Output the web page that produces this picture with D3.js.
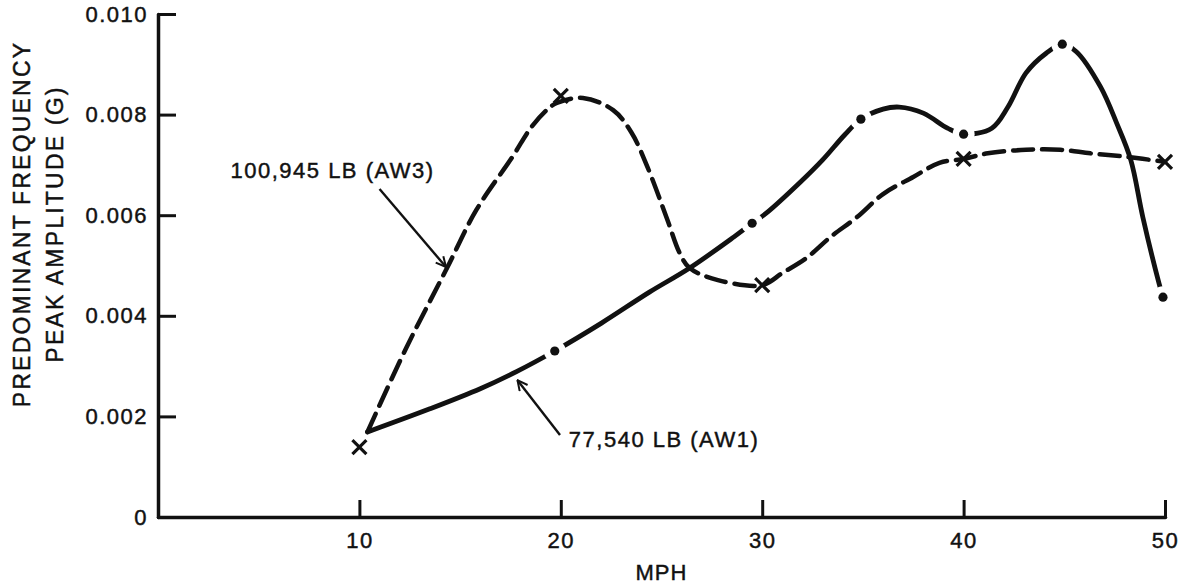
<html>
  <head>
    <title>Peak amplitude vs MPH</title>
    <style type="text/css">
      body { margin: 0; background: #fff; }
      .chart text { font-family: "Liberation Sans", Arial, sans-serif; fill: #111; stroke: #111; stroke-width: 0.45px; }
    </style>
    <script src="https://d3js.org/d3.v7.min.js"></script>
  </head>
  <body>
    <svg class="chart"></svg>
    <script>

// axis ticks
var xTicks = [10, 20, 30, 40, 50];
var yTicks = [0, 0.002, 0.004, 0.006, 0.008, 0.010];
var yTickLabels = ["0", "0.002", "0.004", "0.006", "0.008", "0.010"];

// 100,945 LB (AW3) - dashed curve, X markers
var aw3Mph = [10.4, 12.3, 14.35, 15.8, 17.6, 18.5, 19.3, 19.8, 21.1, 22.6, 23.5, 24.3, 25.3, 25.9, 26.4, 27.8, 30.0, 31.0, 32.2, 33.4, 34.7, 36.0, 37.5, 38.8, 40.0, 41.2, 43.1, 44.8, 46.3, 48.1, 50.0];
var aw3G   = [0.00169, 0.00334, 0.00495, 0.0061, 0.00716, 0.00773, 0.00809, 0.00823, 0.00833, 0.00809, 0.00765, 0.00696, 0.0059, 0.00525, 0.00495, 0.00471, 0.00461, 0.00485, 0.00515, 0.00557, 0.00596, 0.00642, 0.00676, 0.00704, 0.00712, 0.00723, 0.0073, 0.0073, 0.00723, 0.00716, 0.00706];
var aw3MarkMph = [10, 20, 30, 40, 50];
var aw3MarkG   = [0.00139, 0.00837, 0.00461, 0.00712, 0.00706];

// 77,540 LB (AW1) - solid chain curve, dot markers
var aw1Mph = [10.4, 13.5, 16.0, 17.8, 22.0, 24.4, 26.4, 28.6, 30.2, 31.9, 33.0, 34.1, 36.0, 36.8, 38.0, 39.2, 41.4, 42.2, 43.1, 44.1, 45.6, 46.8, 47.6, 48.3, 48.9, 49.7];
var aw1G   = [0.00169, 0.00215, 0.00255, 0.00289, 0.00385, 0.00447, 0.00495, 0.00557, 0.00604, 0.00666, 0.0071, 0.0076, 0.00811, 0.00815, 0.00803, 0.00773, 0.00773, 0.00815, 0.00883, 0.00922, 0.00925, 0.00855, 0.00783, 0.0071, 0.00596, 0.00465];
var aw1DotMph = [19.7, 29.5, 34.9, 40.0, 44.9, 49.9];
var aw1DotG   = [0.0033, 0.00584, 0.00791, 0.00761, 0.0094, 0.00437];

var W = 1183, H = 588;
var svg = d3.select(".chart").attr("width", W).attr("height", H);

var x = d3.scaleLinear().domain([0, 50]).range([158, 1165]);
var y = d3.scaleLinear().domain([0, 0.010]).range([517, 14]);

// axes
var xAxis = svg.append("g")
  .attr("transform", "translate(0," + y(0) + ")")
  .call(d3.axisBottom(x).tickValues(xTicks).tickSizeInner(-17).tickSizeOuter(0).tickPadding(15));
var yAxis = svg.append("g")
  .attr("transform", "translate(" + x(0) + ",0)")
  .call(d3.axisLeft(y).tickValues(yTicks).tickSizeInner(-18).tickSizeOuter(0).tickPadding(10)
    .tickFormat(function(d, i) { return yTickLabels[i]; }));

[xAxis, yAxis].forEach(function(g) {
  g.select(".domain").attr("stroke", "#111").attr("stroke-width", 3.5).attr("stroke-linecap", "round");
  g.selectAll(".tick line").attr("stroke", "#111").attr("stroke-width", 3);
  g.selectAll(".tick text").style("font-size", "22px").style("letter-spacing", "1.5px").attr("fill", "#111");
});

// axis titles
svg.append("text").attr("x", x(25)).attr("y", 580).attr("text-anchor", "middle")
  .style("font-size", "22px").style("letter-spacing", "1px").text("MPH");

var yt = svg.append("text").attr("transform", "translate(30,224) rotate(-90)")
  .attr("text-anchor", "middle").style("font-size", "23px").style("letter-spacing", "2.2px");
yt.append("tspan").attr("x", 0).attr("dy", 0).text("PREDOMINANT FREQUENCY");
yt.append("tspan").attr("x", 0).attr("dy", 33).text("PEAK AMPLITUDE (G)");

var line = d3.line()
  .x(function(d) { return x(d[0]); })
  .y(function(d) { return y(d[1]); })
  .curve(d3.curveCatmullRom.alpha(0.5));

var defs = svg.append("defs");

// AW3 dashed
var aw3 = aw3Mph.map(function(m, i) { return [m, aw3G[i]]; });
svg.append("path").datum(aw3)
  .attr("fill", "none").attr("stroke", "#111").attr("stroke-width", 4.5)
  .attr("stroke-dasharray", "20,9").attr("stroke-linecap", "round")
  .attr("d", line);

svg.selectAll(".xmark").data(aw3MarkMph).enter().append("path")
  .attr("class", "xmark")
  .attr("transform", function(d, i) { return "translate(" + x(d) + "," + y(aw3MarkG[i]) + ")"; })
  .attr("d", "M-7,-7L7,7M-7,7L7,-7")
  .attr("stroke", "#111").attr("stroke-width", 3.2).attr("fill", "none");

// AW1 solid chain line, broken round each dot (mask)
var aw1Dots = aw1DotMph.map(function(m, i) { return [m, aw1DotG[i]]; });
var aw1 = aw1Mph.map(function(m, i) { return [m, aw1G[i]]; }).concat(aw1Dots)
  .sort(function(a, b) { return a[0] - b[0]; });

var mask = defs.append("mask").attr("id", "gapmask")
  .attr("maskUnits", "userSpaceOnUse").attr("x", 0).attr("y", 0).attr("width", W).attr("height", H);
mask.append("rect").attr("width", W).attr("height", H).attr("fill", "#fff");
mask.selectAll("circle").data(aw1Dots).enter().append("circle")
  .attr("cx", function(d) { return x(d[0]); })
  .attr("cy", function(d) { return y(d[1]); })
  .attr("r", 11).attr("fill", "#000");

svg.append("path").datum(aw1)
  .attr("fill", "none").attr("stroke", "#111").attr("stroke-width", 4.8)
  .attr("stroke-linecap", "round").attr("mask", "url(#gapmask)")
  .attr("d", line);

svg.selectAll(".dot").data(aw1Dots).enter().append("circle")
  .attr("class", "dot")
  .attr("cx", function(d) { return x(d[0]); })
  .attr("cy", function(d) { return y(d[1]); })
  .attr("r", 4.6).attr("fill", "#111");

// annotations
defs.append("marker")
  .attr("id", "arr").attr("viewBox", "0 0 12 12").attr("refX", 11).attr("refY", 6)
  .attr("markerWidth", 12).attr("markerHeight", 12).attr("markerUnits", "userSpaceOnUse")
  .attr("orient", "auto")
  .append("path").attr("d", "M1,1L11,6L1,11").attr("fill", "none").attr("stroke", "#111").attr("stroke-width", 2);

var notes = [
  {text: "100,945 LB (AW3)", tx: 3.6, ty: 0.00674, from: [11.0, 0.00652], to: [14.3, 0.00497]},
  {text: "77,540 LB (AW1)", tx: 20.4, ty: 0.00139, from: [19.96, 0.00163], to: [17.85, 0.00272]}
];
notes.forEach(function(n) {
  svg.append("text").attr("x", x(n.tx)).attr("y", y(n.ty))
    .style("font-size", "22px").style("letter-spacing", "1.5px").text(n.text);
  svg.append("line")
    .attr("x1", x(n.from[0])).attr("y1", y(n.from[1]))
    .attr("x2", x(n.to[0])).attr("y2", y(n.to[1]))
    .attr("stroke", "#111").attr("stroke-width", 2.4).attr("marker-end", "url(#arr)");
});

</script>
  </body>
</html>
